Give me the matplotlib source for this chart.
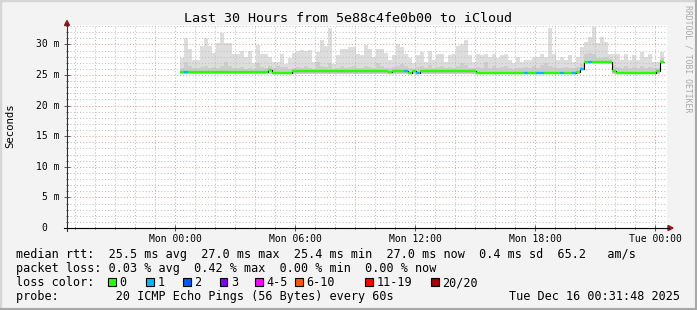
import numpy as np
import matplotlib
matplotlib.use("Agg")
import matplotlib.pyplot as plt
from matplotlib import transforms
from matplotlib.patches import Rectangle, Polygon
from matplotlib.lines import Line2D
from matplotlib.ticker import MultipleLocator

# time bins: hours after Mon 00:00, 12 minute bins
bin_start_h = 0.25
bin_width_h = 0.2

# smoke top (max ping) per bin, ms
rtt_max = [
    27.7, 31.0, 29.2, 27.5, 27.5, 29.7, 31.1, 29.7, 28.6, 30.3,
    31.8, 30.3, 30.3, 28.4, 28.4, 29.0, 27.9, 29.0, 26.9, 29.9,
    28.4, 28.4, 28.0, 27.2, 27.2, 28.5, 26.8, 27.7, 28.6, 29.0,
    29.1, 29.0, 29.1, 27.2, 28.8, 30.8, 29.7, 32.6, 26.8, 28.3,
    29.2, 29.3, 29.5, 29.5, 28.5, 28.3, 29.9, 29.2, 28.0, 29.2,
    29.2, 28.6, 27.5, 28.2, 30.1, 29.5, 28.5, 27.7, 26.9, 28.2,
    28.8, 27.2, 29.0, 27.5, 28.5, 28.5, 27.2, 28.3, 28.5, 29.7,
    30.1, 30.7, 28.2, 27.2, 28.5, 28.2, 28.4, 27.9, 28.4, 27.7,
    28.3, 28.5, 27.5, 26.9, 27.9, 27.2, 27.5, 27.4, 28.0, 27.9,
    28.5, 27.9, 32.6, 28.4, 27.5, 28.0, 27.5, 28.3, 27.2, 27.9,
    29.6, 30.4, 31.2, 32.8, 30.2, 31.2, 30.4, 28.5, 28.5, 28.4,
    27.5, 28.5, 27.4, 28.3, 27.4, 28.8, 27.9, 28.4, 27.2, 27.2,
    28.8,
]

# denser inner smoke top per bin, ms
rtt_mid = [
    26.2, 27.2, 26.4, 26.1, 26.2, 26.3, 26.5, 26.2, 26.3, 26.1,
    26.4, 27.2, 26.5, 26.2, 26.1, 26.3, 26.0, 26.2, 26.0, 27.0,
    26.3, 26.2, 26.4, 26.1, 26.5, 26.3, 26.3, 26.0, 26.2, 26.3,
    26.1, 26.4, 26.2, 26.0, 27.2, 26.4, 26.3, 26.9, 26.0, 26.2,
    26.4, 26.2, 26.3, 26.5, 26.2, 26.1, 26.4, 26.3, 26.2, 27.0,
    26.4, 26.2, 26.1, 26.3, 26.5, 26.8, 26.4, 26.1, 26.0, 26.3,
    26.5, 26.1, 26.7, 26.2, 26.3, 26.4, 26.1, 26.3, 26.2, 26.5,
    26.9, 26.6, 26.2, 26.1, 26.3, 26.2, 27.1, 26.2, 26.4, 26.1,
    26.3, 26.4, 26.1, 26.0, 26.2, 26.1, 26.3, 26.2, 26.4, 26.2,
    26.6, 26.9, 26.5, 26.3, 26.1, 26.2, 26.3, 26.1, 26.2, 26.3,
    26.8, 28.5, 28.6, 28.4, 27.8, 27.7, 27.9, 27.6, 26.4, 26.3,
    26.1, 26.4, 26.2, 26.3, 26.1, 26.4, 26.2, 26.3, 26.1, 26.2,
    27.8,
]

# smoke bottom (min ping) per bin, ms
rtt_min = [25.2] * 100 + [25.8] + [26.9] * 7 + [25.2] * 12 + [26.9]

# median rtt per bin, ms
rtt_median = ([25.5] * 22 + [25.8] + [25.4] * 5 + [25.7] + [25.6] * 14
              + [25.7] * 9 + [25.5] + [25.7] * 3 + [25.6] + [25.4] + [25.7]
              + [25.4] + [25.6] * 14 + [25.4] * 15 + [25.3] * 2 + [25.4] * 7
              + [25.3] + [25.5] + [26.0] + [27.1] * 7 + [25.6] + [25.4] * 10
              + [25.6] + [27.1])

# lost pings per bin (of 20)
loss = ([0, 1] + [0] * 54 + [1] + [0] * 2 + [1] + [0] * 26 + [1] + [0] * 2
        + [1, 1] + [0] * 4 + [1] + [0] * 2 + [1] + [0] + [1] + [0] + [1]
        + [0] * 18)

loss_labels = ['0', '1', '2', '3', '4-5', '6-10', '11-19', '20/20']
loss_colors = ['#26ff00', '#00b8ff', '#0059ff', '#7e00ff', '#ff00ff',
               '#ff5500', '#ff0000', '#a10000']

x_tick_hours = [0, 6, 12, 18, 24]
x_tick_labels = ['Mon 00:00', 'Mon 06:00', 'Mon 12:00', 'Mon 18:00', 'Tue 00:00']
y_tick_values = [0, 5, 10, 15, 20, 25, 30]
y_tick_labels = ['0', '5 m', '10 m', '15 m', '20 m', '25 m', '30 m']

title = 'Last 30 Hours from 5e88c4fe0b00 to iCloud'
stats_rtt = 'median rtt:  25.5 ms avg  27.0 ms max  25.4 ms min  27.0 ms now  0.4 ms sd  65.2   am/s'
stats_loss = 'packet loss: 0.03 % avg  0.42 % max  0.00 % min  0.00 % now'
probe_text = 'probe:        20 ICMP Echo Pings (56 Bytes) every 60s'
stamp = 'Tue Dec 16 00:31:48 2025'

W, H = 697, 310
MONO = 'DejaVu Sans Mono'


def fx(px):
    return px / W


def fy(py):
    return 1 - py / H


fig = plt.figure(figsize=(W / 100, H / 100), dpi=100, facecolor='#f3f3f3')

ax = fig.add_axes([fx(67), fy(228), fx(667) - fx(67), fy(25) - fy(228)])
ax.set_facecolor('white')
ax.set_xlim(-5.4, 24.6)
ax.set_ylim(0, 33.17)

edges = bin_start_h + bin_width_h * np.arange(len(rtt_max) + 1)

# smoke
ax.stairs(rtt_max, edges, baseline=rtt_min, fill=True, color='#dddddd', lw=0, zorder=1)
ax.stairs(rtt_mid, edges, baseline=rtt_min, fill=True, color='#cdcdcd', lw=0, zorder=1.1)

# median: black step underneath, loss-coloured segments on top
ax.stairs(rtt_median, edges, baseline=None, color='black', lw=0.8, zorder=3)
seg_colors = [loss_colors[n] for n in loss]
ax.hlines(rtt_median, edges[:-1], edges[1:], colors=seg_colors, lw=1.7,
          zorder=4, capstyle='butt')

# grid
ax.xaxis.set_major_locator(MultipleLocator(6))
ax.xaxis.set_minor_locator(MultipleLocator(1))
ax.yaxis.set_major_locator(MultipleLocator(5))
ax.yaxis.set_minor_locator(MultipleLocator(1))
ax.grid(which='major', color='#e6a0a0', linestyle=(0, (1, 2)), lw=0.75)
ax.grid(which='minor', color='#c0c0c0', linestyle=(0, (1, 2)), lw=0.75)
ax.tick_params(which='both', labelleft=False, labelbottom=False,
               direction='inout', color='#404040', width=0.6)
ax.tick_params(which='major', length=4)
ax.tick_params(which='minor', length=2)
for s in ax.spines.values():
    s.set_visible(False)

# axis lines with arrows
fig.add_artist(Line2D([fx(67), fx(67)], [fy(231), fy(24)], color='#303030',
                      lw=0.8, transform=fig.transFigure))
fig.add_artist(Line2D([fx(64), fx(669)], [fy(228), fy(228)], color='black',
                      lw=0.8, transform=fig.transFigure))
fig.add_artist(Polygon([[fx(64.5), fy(25.5)], [fx(69.5), fy(25.5)], [fx(67), fy(20.5)]],
                       closed=True, color='#8b1a1a', transform=fig.transFigure))
fig.add_artist(Polygon([[fx(668), fy(225.5)], [fx(668), fy(230.5)], [fx(673), fy(228)]],
                       closed=True, color='#8b1a1a', transform=fig.transFigure))

# tick labels
ytrans = transforms.blended_transform_factory(fig.transFigure, ax.transData)
for v, lab in zip(y_tick_values, y_tick_labels):
    xr = 59.5 if lab.endswith('m') else 47.5
    ax.text(fx(xr), v, lab, transform=ytrans, ha='right', va='center',
            fontsize=7, family=MONO)
xtrans = transforms.blended_transform_factory(ax.transData, fig.transFigure)
for h, lab in zip(x_tick_hours, x_tick_labels):
    ax.text(h, fy(238.5), lab, transform=xtrans, ha='center', va='center',
            fontsize=7, family=MONO)

# titles
fig.text(fx(348), fy(18.5), title, ha='center', va='center', fontsize=9.6, family=MONO)
fig.text(fx(10), fy(126), 'Seconds', rotation=90, ha='center', va='center',
         fontsize=7.7, family=MONO)
fig.text(fx(688), fy(5), 'RRDTOOL / TOBI OETIKER', rotation=270, ha='center',
         va='top', fontsize=5.9, family=MONO, color='#a8a8a8')

# legend rows
fig.text(fx(16), fy(254.5), stats_rtt, ha='left', va='center', fontsize=8.5, family=MONO)
fig.text(fx(16), fy(268.5), stats_loss, ha='left', va='center', fontsize=8.5, family=MONO)
fig.text(fx(16), fy(282.5), 'loss color:', ha='left', va='center', fontsize=8.5, family=MONO)
box_x = [108, 146, 183, 220, 255, 295, 365, 431]
for bx, lab, col in zip(box_x, loss_labels, loss_colors):
    fig.add_artist(Rectangle((fx(bx), fy(285.5)), 7.5 / W, 7.5 / H, facecolor=col,
                             edgecolor='black', lw=0.8, transform=fig.transFigure))
    fig.text(fx(bx + 11.5), fy(282.5), lab, ha='left', va='center', fontsize=8.5, family=MONO)
fig.text(fx(16), fy(296.5), probe_text, ha='left', va='center', fontsize=8.5, family=MONO)
fig.text(fx(680), fy(296.5), stamp, ha='right', va='center', fontsize=8.5, family=MONO)

# image frame
fig.add_artist(Line2D([0, 0, 1], [0, 1, 1], color='#d6d6d6', lw=2.5, transform=fig.transFigure))
fig.add_artist(Line2D([0, 1, 1], [0, 0, 1], color='#a8a8a8', lw=3, transform=fig.transFigure))

fig.savefig('out.png', dpi=100, facecolor=fig.get_facecolor())
